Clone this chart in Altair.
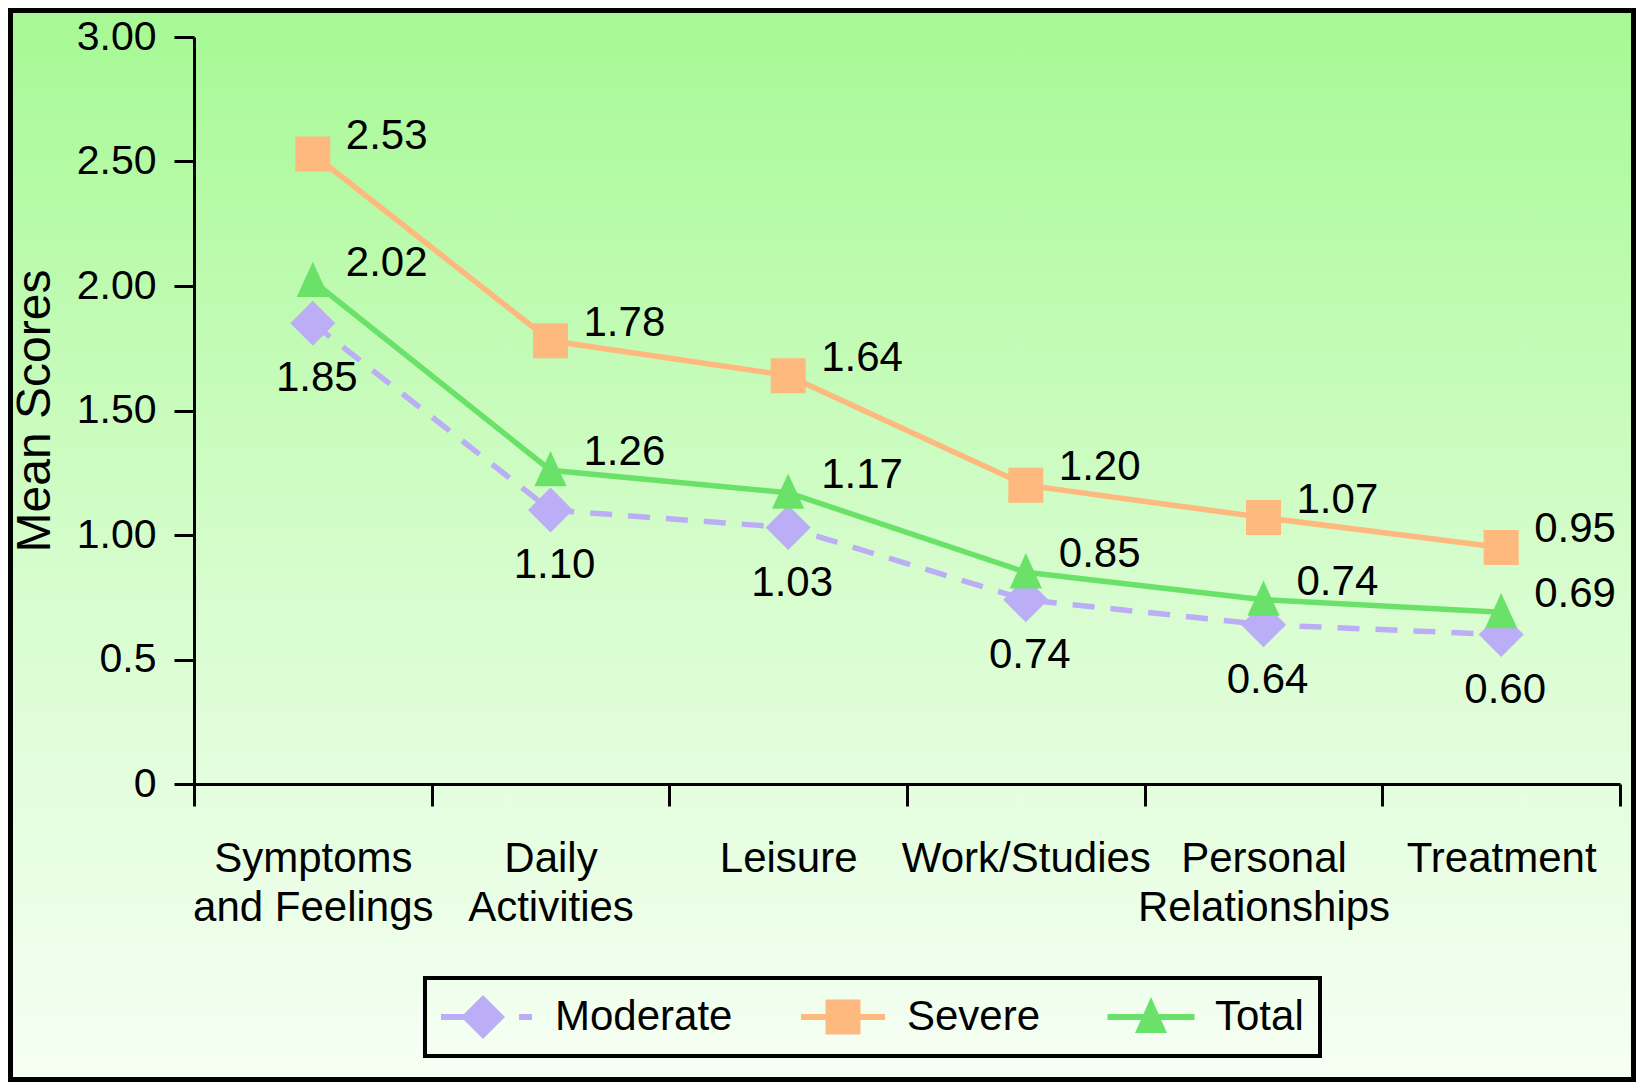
import altair as alt
import pandas as pd

# ---- data ----
categories = ["Symptoms and Feelings", "Daily Activities", "Leisure",
              "Work/Studies", "Personal Relationships", "Treatment"]
category_lines = [["Symptoms", "and Feelings"], ["Daily", "Activities"], ["Leisure"],
                  ["Work/Studies"], ["Personal", "Relationships"], ["Treatment"]]
series_names = ["Moderate", "Severe", "Total"]
moderate = [1.85, 1.10, 1.03, 0.74, 0.64, 0.60]
severe = [2.53, 1.78, 1.64, 1.20, 1.07, 0.95]
total = [2.02, 1.26, 1.17, 0.85, 0.74, 0.69]
y_ticks = [0, 0.5, 1.0, 1.5, 2.0, 2.5, 3.0]
y_tick_labels = ["0", "0.5", "1.00", "1.50", "2.00", "2.50", "3.00"]
y_title = "Mean Scores"
colors = ["#bbaef7", "#fdb97e", "#6ae26a"]

rows = []
for name, vals in zip(series_names, [moderate, severe, total]):
    for c, v in zip(categories, vals):
        rows.append({"category": c, "series": name, "value": v})
df = pd.DataFrame(rows)

FONT = "Liberation Sans"
W, H = 1426, 747
PAD = {"left": 186, "top": 29, "right": 16, "bottom": 298}

def js_list(items):
    return "[" + ",".join("'" + s + "'" for s in items) + "]"

x_label_expr = ("[" + ",".join(js_list(l) for l in category_lines) + "][indexof("
                + js_list(categories) + ", datum.value)]")
y_label_expr = js_list(y_tick_labels) + "[round(datum.value*2)]"

x_axis = alt.Axis(title=None, tickBand="extent", labelExpr=x_label_expr,
                  labelFont=FONT, labelFontSize=42, labelColor="black",
                  labelPadding=32, labelLineHeight=49, labelAngle=0,
                  labelLimit=500, labelOverlap=False,
                  tickSize=22, tickWidth=3, tickColor="black",
                  domainColor="black", domainWidth=3, grid=False, zindex=1)
y_axis = alt.Axis(values=y_ticks, labelExpr=y_label_expr, title=y_title,
                  labelFont=FONT, labelFontSize=41, labelColor="black",
                  labelPadding=18, tickSize=20, tickWidth=3, tickColor="black",
                  domainColor="black", domainWidth=3, grid=False,
                  titleFont=FONT, titleFontSize=48, titleFontWeight="normal",
                  titleColor="black", titleX=-159, titleY=H / 2, titleAngle=-90,
                  titleAlign="center", titleBaseline="middle", zindex=1)

x_enc = alt.X("category:N", sort=categories, bandPosition=0.5,
              scale=alt.Scale(type="band", domain=categories, paddingInner=0, paddingOuter=0),
              axis=x_axis)
y_enc = alt.Y("value:Q", scale=alt.Scale(domain=[0, 3], nice=False, zero=True), axis=y_axis)

# background gradient with border
bg = alt.Chart(pd.DataFrame({"k": [0]})).mark_rect(
    fill=alt.LinearGradient(gradient="linear", x1=0, x2=0, y1=0, y2=1,
                            stops=[alt.GradientStop(color="#a6f994", offset=0),
                                   alt.GradientStop(color="#d8fdcf", offset=0.55),
                                   alt.GradientStop(color="#f6fff4", offset=1)]),
    stroke="black", strokeWidth=5
).encode(x=alt.value(-PAD["left"] + 2.5), x2=alt.value(W + PAD["right"] - 2.5),
         y=alt.value(-PAD["top"] + 2.5), y2=alt.value(H + PAD["bottom"] - 2.5))

base = alt.Chart(df)

tri_path = "M0,-1.1L0.92,0.92L-0.92,0.92Z"
marker = {"Moderate": ("diamond", 2025), "Severe": ("square", 1225), "Total": (tri_path, 1225)}
txt_kw = dict(font=FONT, fontSize=42, color="black", baseline="middle")

lines, points, labels = [], [], []
for name, col in zip(series_names, colors):
    sub = base.transform_filter(alt.datum.series == name)
    line_kw = dict(strokeWidth=5.5, color=col)
    if name == "Moderate":
        line_kw["strokeDash"] = [22, 16]
    lines.append(sub.mark_line(**line_kw).encode(x=x_enc, y=y_enc))
    shp, sz = marker[name]
    points.append(sub.mark_point(filled=True, opacity=1, shape=shp, size=sz, color=col)
                  .encode(x=x_enc, y=y_enc))
    if name == "Moderate":
        tm = sub.mark_text(align="center", dx=4, dy=55, **txt_kw)
    else:
        tm = sub.mark_text(align="left", dx=33, dy=-18, **txt_kw)
    labels.append(tm.encode(x=x_enc, y=y_enc, text=alt.Text("value:Q", format=".2f")))

legend_paths = [
    "M-1,-0.06L-0.38,-0.06L-0.38,0.06L-1,0.06Z M-0.6,0L-0.16,-0.44L0.28,0L-0.16,0.44Z M0.56,-0.06L0.82,-0.06L0.82,0.06L0.56,0.06Z",
    "M-0.84,-0.06L0.84,-0.06L0.84,0.06L-0.84,0.06Z M-0.35,-0.35L0.35,-0.35L0.35,0.35L-0.35,0.35Z",
    "M-0.87,-0.06L0.87,-0.06L0.87,0.06L-0.87,0.06Z M0,-0.4L0.32,0.32L-0.32,0.32Z",
]
leg = alt.Legend(title=None, orient="none", legendX=231, legendY=941, direction="horizontal",
                 strokeColor="black", padding=16, columnPadding=60, clipHeight=46,
                 labelFont=FONT, labelFontSize=42, labelColor="black", labelLimit=500,
                 labelOffset=14, symbolSize=10000, symbolStrokeWidth=0, symbolOpacity=1,
                 zindex=1)
legend_layer = base.transform_filter("false").mark_point(filled=True, opacity=1).encode(
    x=x_enc, y=y_enc,
    color=alt.Color("series:N", scale=alt.Scale(domain=series_names, range=colors), legend=leg),
    shape=alt.Shape("series:N", scale=alt.Scale(domain=series_names, range=legend_paths), legend=leg))

chart = alt.layer(bg, *lines, *points, *labels, legend_layer).properties(
    width=W, height=H, padding=PAD, autosize="none", background="white"
).configure_view(stroke=None).configure_legend(strokeWidth=4)

chart.save("out.html", embed_options={"renderer": "svg", "actions": False})
